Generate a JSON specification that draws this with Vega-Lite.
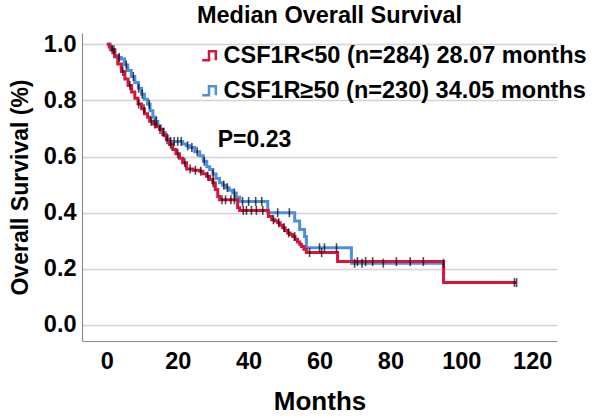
{
  "$schema": "https://vega.github.io/schema/vega-lite/v6.json",
  "width": 475,
  "height": 308,
  "autosize": {"type": "none"},
  "padding": {"left": 82, "top": 33, "right": 43, "bottom": 77},
  "background": "white",
  "config": {
    "font": "Liberation Sans",
    "view": {"stroke": null},
    "axis": {
      "labelFont": "Liberation Sans",
      "labelFontWeight": "bold",
      "labelColor": "black",
      "titleFont": "Liberation Sans",
      "titleFontWeight": "bold",
      "titleColor": "black",
      "domainColor": "#8c8c8c",
      "domainWidth": 1.2,
      "ticks": false,
      "gridColor": "#d4d4d4",
      "gridWidth": 1.5
    },
    "title": {"font": "Liberation Sans", "fontSize": 23.5, "fontWeight": "bold", "color": "black"}
  },
  "title": {"text": "Median Overall Survival", "anchor": "middle", "dx": 10, "offset": 5},
  "datasets": {
    "curves": [
      {"group": "CSF1R≥50 (n=230) 34.05 months", "t": 0, "s": 1.0},
      {"group": "CSF1R≥50 (n=230) 34.05 months", "t": 1.0, "s": 0.98},
      {"group": "CSF1R≥50 (n=230) 34.05 months", "t": 2.3, "s": 0.96},
      {"group": "CSF1R≥50 (n=230) 34.05 months", "t": 3.2, "s": 0.953},
      {"group": "CSF1R≥50 (n=230) 34.05 months", "t": 4.1, "s": 0.947},
      {"group": "CSF1R≥50 (n=230) 34.05 months", "t": 5.0, "s": 0.926},
      {"group": "CSF1R≥50 (n=230) 34.05 months", "t": 5.9, "s": 0.906},
      {"group": "CSF1R≥50 (n=230) 34.05 months", "t": 6.9, "s": 0.885},
      {"group": "CSF1R≥50 (n=230) 34.05 months", "t": 7.9, "s": 0.864},
      {"group": "CSF1R≥50 (n=230) 34.05 months", "t": 8.9, "s": 0.843},
      {"group": "CSF1R≥50 (n=230) 34.05 months", "t": 9.8, "s": 0.822},
      {"group": "CSF1R≥50 (n=230) 34.05 months", "t": 10.6, "s": 0.804},
      {"group": "CSF1R≥50 (n=230) 34.05 months", "t": 11.5, "s": 0.786},
      {"group": "CSF1R≥50 (n=230) 34.05 months", "t": 12.2, "s": 0.763},
      {"group": "CSF1R≥50 (n=230) 34.05 months", "t": 13.0, "s": 0.74},
      {"group": "CSF1R≥50 (n=230) 34.05 months", "t": 13.7, "s": 0.725},
      {"group": "CSF1R≥50 (n=230) 34.05 months", "t": 14.4, "s": 0.71},
      {"group": "CSF1R≥50 (n=230) 34.05 months", "t": 15.1, "s": 0.698},
      {"group": "CSF1R≥50 (n=230) 34.05 months", "t": 15.8, "s": 0.686},
      {"group": "CSF1R≥50 (n=230) 34.05 months", "t": 16.5, "s": 0.673},
      {"group": "CSF1R≥50 (n=230) 34.05 months", "t": 17.2, "s": 0.66},
      {"group": "CSF1R≥50 (n=230) 34.05 months", "t": 17.7, "s": 0.654},
      {"group": "CSF1R≥50 (n=230) 34.05 months", "t": 21.4, "s": 0.645},
      {"group": "CSF1R≥50 (n=230) 34.05 months", "t": 22.4, "s": 0.638},
      {"group": "CSF1R≥50 (n=230) 34.05 months", "t": 23.4, "s": 0.632},
      {"group": "CSF1R≥50 (n=230) 34.05 months", "t": 24.8, "s": 0.617},
      {"group": "CSF1R≥50 (n=230) 34.05 months", "t": 26.2, "s": 0.603},
      {"group": "CSF1R≥50 (n=230) 34.05 months", "t": 27.2, "s": 0.583},
      {"group": "CSF1R≥50 (n=230) 34.05 months", "t": 28.2, "s": 0.564},
      {"group": "CSF1R≥50 (n=230) 34.05 months", "t": 29.0, "s": 0.554},
      {"group": "CSF1R≥50 (n=230) 34.05 months", "t": 29.9, "s": 0.538},
      {"group": "CSF1R≥50 (n=230) 34.05 months", "t": 30.8, "s": 0.522},
      {"group": "CSF1R≥50 (n=230) 34.05 months", "t": 31.8, "s": 0.507},
      {"group": "CSF1R≥50 (n=230) 34.05 months", "t": 32.7, "s": 0.498},
      {"group": "CSF1R≥50 (n=230) 34.05 months", "t": 33.6, "s": 0.489},
      {"group": "CSF1R≥50 (n=230) 34.05 months", "t": 34.5, "s": 0.48},
      {"group": "CSF1R≥50 (n=230) 34.05 months", "t": 35.5, "s": 0.47},
      {"group": "CSF1R≥50 (n=230) 34.05 months", "t": 36.5, "s": 0.455},
      {"group": "CSF1R≥50 (n=230) 34.05 months", "t": 37.5, "s": 0.44},
      {"group": "CSF1R≥50 (n=230) 34.05 months", "t": 45.4, "s": 0.40},
      {"group": "CSF1R≥50 (n=230) 34.05 months", "t": 53.0, "s": 0.37},
      {"group": "CSF1R≥50 (n=230) 34.05 months", "t": 54.4, "s": 0.34},
      {"group": "CSF1R≥50 (n=230) 34.05 months", "t": 55.8, "s": 0.315},
      {"group": "CSF1R≥50 (n=230) 34.05 months", "t": 56.3, "s": 0.275},
      {"group": "CSF1R≥50 (n=230) 34.05 months", "t": 69.0, "s": 0.22},
      {"group": "CSF1R≥50 (n=230) 34.05 months", "t": 95.0, "s": 0.22},
      {"group": "CSF1R<50 (n=284) 28.07 months", "t": 0, "s": 1.0},
      {"group": "CSF1R<50 (n=284) 28.07 months", "t": 0.7, "s": 0.99},
      {"group": "CSF1R<50 (n=284) 28.07 months", "t": 1.3, "s": 0.98},
      {"group": "CSF1R<50 (n=284) 28.07 months", "t": 2.2, "s": 0.955},
      {"group": "CSF1R<50 (n=284) 28.07 months", "t": 3.1, "s": 0.93},
      {"group": "CSF1R<50 (n=284) 28.07 months", "t": 4.1, "s": 0.903},
      {"group": "CSF1R<50 (n=284) 28.07 months", "t": 5.1, "s": 0.876},
      {"group": "CSF1R<50 (n=284) 28.07 months", "t": 6.0, "s": 0.853},
      {"group": "CSF1R<50 (n=284) 28.07 months", "t": 7.0, "s": 0.83},
      {"group": "CSF1R<50 (n=284) 28.07 months", "t": 7.9, "s": 0.808},
      {"group": "CSF1R<50 (n=284) 28.07 months", "t": 8.8, "s": 0.787},
      {"group": "CSF1R<50 (n=284) 28.07 months", "t": 9.8, "s": 0.77},
      {"group": "CSF1R<50 (n=284) 28.07 months", "t": 10.6, "s": 0.752},
      {"group": "CSF1R<50 (n=284) 28.07 months", "t": 11.5, "s": 0.74},
      {"group": "CSF1R<50 (n=284) 28.07 months", "t": 12.1, "s": 0.726},
      {"group": "CSF1R<50 (n=284) 28.07 months", "t": 13.0, "s": 0.716},
      {"group": "CSF1R<50 (n=284) 28.07 months", "t": 14.0, "s": 0.706},
      {"group": "CSF1R<50 (n=284) 28.07 months", "t": 14.9, "s": 0.696},
      {"group": "CSF1R<50 (n=284) 28.07 months", "t": 15.8, "s": 0.678},
      {"group": "CSF1R<50 (n=284) 28.07 months", "t": 16.8, "s": 0.66},
      {"group": "CSF1R<50 (n=284) 28.07 months", "t": 17.7, "s": 0.643},
      {"group": "CSF1R<50 (n=284) 28.07 months", "t": 18.6, "s": 0.625},
      {"group": "CSF1R<50 (n=284) 28.07 months", "t": 19.5, "s": 0.61},
      {"group": "CSF1R<50 (n=284) 28.07 months", "t": 20.5, "s": 0.594},
      {"group": "CSF1R<50 (n=284) 28.07 months", "t": 21.4, "s": 0.578},
      {"group": "CSF1R<50 (n=284) 28.07 months", "t": 22.5, "s": 0.556},
      {"group": "CSF1R<50 (n=284) 28.07 months", "t": 24.3, "s": 0.551},
      {"group": "CSF1R<50 (n=284) 28.07 months", "t": 26.2, "s": 0.548},
      {"group": "CSF1R<50 (n=284) 28.07 months", "t": 27.1, "s": 0.539},
      {"group": "CSF1R<50 (n=284) 28.07 months", "t": 28.1, "s": 0.53},
      {"group": "CSF1R<50 (n=284) 28.07 months", "t": 29.0, "s": 0.518},
      {"group": "CSF1R<50 (n=284) 28.07 months", "t": 29.9, "s": 0.507},
      {"group": "CSF1R<50 (n=284) 28.07 months", "t": 30.6, "s": 0.483},
      {"group": "CSF1R<50 (n=284) 28.07 months", "t": 31.3, "s": 0.458},
      {"group": "CSF1R<50 (n=284) 28.07 months", "t": 31.8, "s": 0.446},
      {"group": "CSF1R<50 (n=284) 28.07 months", "t": 36.9, "s": 0.418},
      {"group": "CSF1R<50 (n=284) 28.07 months", "t": 37.5, "s": 0.408},
      {"group": "CSF1R<50 (n=284) 28.07 months", "t": 45.6, "s": 0.386},
      {"group": "CSF1R<50 (n=284) 28.07 months", "t": 46.5, "s": 0.375},
      {"group": "CSF1R<50 (n=284) 28.07 months", "t": 47.4, "s": 0.37},
      {"group": "CSF1R<50 (n=284) 28.07 months", "t": 48.2, "s": 0.364},
      {"group": "CSF1R<50 (n=284) 28.07 months", "t": 48.9, "s": 0.355},
      {"group": "CSF1R<50 (n=284) 28.07 months", "t": 49.6, "s": 0.346},
      {"group": "CSF1R<50 (n=284) 28.07 months", "t": 50.3, "s": 0.337},
      {"group": "CSF1R<50 (n=284) 28.07 months", "t": 51.0, "s": 0.328},
      {"group": "CSF1R<50 (n=284) 28.07 months", "t": 51.7, "s": 0.322},
      {"group": "CSF1R<50 (n=284) 28.07 months", "t": 52.4, "s": 0.315},
      {"group": "CSF1R<50 (n=284) 28.07 months", "t": 53.1, "s": 0.305},
      {"group": "CSF1R<50 (n=284) 28.07 months", "t": 53.8, "s": 0.296},
      {"group": "CSF1R<50 (n=284) 28.07 months", "t": 54.4, "s": 0.288},
      {"group": "CSF1R<50 (n=284) 28.07 months", "t": 54.9, "s": 0.28},
      {"group": "CSF1R<50 (n=284) 28.07 months", "t": 55.6, "s": 0.27},
      {"group": "CSF1R<50 (n=284) 28.07 months", "t": 56.3, "s": 0.258},
      {"group": "CSF1R<50 (n=284) 28.07 months", "t": 65.1, "s": 0.226},
      {"group": "CSF1R<50 (n=284) 28.07 months", "t": 95.0, "s": 0.151},
      {"group": "CSF1R<50 (n=284) 28.07 months", "t": 115.5, "s": 0.151}
    ],
    "censors": [
      {"t": 1.5, "s": 0.98}, {"t": 3.5, "s": 0.953}, {"t": 5.5, "s": 0.926}, {"t": 7.5, "s": 0.885},
      {"t": 9, "s": 0.843}, {"t": 10, "s": 0.822}, {"t": 12, "s": 0.786}, {"t": 14, "s": 0.725},
      {"t": 16, "s": 0.686}, {"t": 18, "s": 0.654}, {"t": 19, "s": 0.654}, {"t": 20, "s": 0.654},
      {"t": 21, "s": 0.654}, {"t": 22.8, "s": 0.638}, {"t": 24, "s": 0.632}, {"t": 25.5, "s": 0.617},
      {"t": 27.5, "s": 0.583}, {"t": 30, "s": 0.538}, {"t": 33, "s": 0.498}, {"t": 34, "s": 0.489},
      {"t": 36, "s": 0.47}, {"t": 38.3, "s": 0.44}, {"t": 40, "s": 0.44}, {"t": 42, "s": 0.44},
      {"t": 43.7, "s": 0.44}, {"t": 48.2, "s": 0.40}, {"t": 51.5, "s": 0.40}, {"t": 60, "s": 0.275},
      {"t": 61.4, "s": 0.275}, {"t": 64.8, "s": 0.275}, {"t": 69.9, "s": 0.22}, {"t": 72, "s": 0.22},
      {"t": 78, "s": 0.22}, {"t": 95, "s": 0.22},
      {"t": 2, "s": 0.98}, {"t": 4.5, "s": 0.903}, {"t": 6.5, "s": 0.853}, {"t": 9, "s": 0.787},
      {"t": 10.5, "s": 0.77}, {"t": 12.5, "s": 0.726}, {"t": 13.5, "s": 0.716}, {"t": 15, "s": 0.696},
      {"t": 17, "s": 0.66}, {"t": 18, "s": 0.643}, {"t": 20, "s": 0.61}, {"t": 22, "s": 0.578},
      {"t": 23.5, "s": 0.556}, {"t": 25, "s": 0.551}, {"t": 26.5, "s": 0.548}, {"t": 28.5, "s": 0.53},
      {"t": 30, "s": 0.507}, {"t": 32.5, "s": 0.446}, {"t": 33.5, "s": 0.446}, {"t": 35, "s": 0.446},
      {"t": 36, "s": 0.446}, {"t": 38.5, "s": 0.408}, {"t": 39.4, "s": 0.408}, {"t": 40.8, "s": 0.408},
      {"t": 42.2, "s": 0.408}, {"t": 44, "s": 0.408}, {"t": 47, "s": 0.375}, {"t": 48.5, "s": 0.364},
      {"t": 50, "s": 0.346}, {"t": 51.3, "s": 0.328}, {"t": 53, "s": 0.315}, {"t": 57.2, "s": 0.258},
      {"t": 60.6, "s": 0.258}, {"t": 70.7, "s": 0.226}, {"t": 73, "s": 0.226}, {"t": 75, "s": 0.226},
      {"t": 81.7, "s": 0.226}, {"t": 85.6, "s": 0.226}, {"t": 89.3, "s": 0.226}, {"t": 115, "s": 0.151},
      {"t": 115.6, "s": 0.151}
    ],
    "annot": [{"t": 31.3, "s": 0.66, "label": "P=0.23"}]
  },
  "layer": [
    {
      "data": {"name": "curves"},
      "mark": {"type": "line", "interpolate": "step-after", "strokeWidth": 3},
      "encoding": {
        "x": {
          "field": "t", "type": "quantitative",
          "scale": {"domain": [-7, 127], "nice": false, "zero": false},
          "axis": {"values": [0, 20, 40, 60, 80, 100, 120], "grid": false, "title": "Months", "labelFontSize": 23.5, "titleFontSize": 26, "labelPadding": 8, "titlePadding": 16}
        },
        "y": {
          "field": "s", "type": "quantitative",
          "scale": {"domain": [-0.057, 1.04], "nice": false, "zero": false},
          "axis": {"values": [0, 0.2, 0.4, 0.6, 0.8, 1.0], "format": ".1f", "grid": true, "title": "Overall Survival (%)", "labelFontSize": 23.5, "titleFontSize": 23, "labelPadding": 6, "titlePadding": 11}
        },
        "color": {
          "field": "group", "type": "nominal",
          "scale": {"domain": ["CSF1R<50 (n=284) 28.07 months", "CSF1R≥50 (n=230) 34.05 months"], "range": ["#d7143c", "#4a90e2"]},
          "sort": ["CSF1R≥50 (n=230) 34.05 months", "CSF1R<50 (n=284) 28.07 months"],
          "legend": {
            "title": null,
            "orient": "none",
            "legendX": 116,
            "legendY": 11,
            "padding": 0,
            "labelFont": "Liberation Sans",
            "labelFontSize": 23.5,
            "labelFontWeight": "bold",
            "labelColor": "black",
            "labelOffset": 2,
            "labelLimit": 500,
            "rowPadding": 10,
            "symbolType": "M-1,0.6H-0.1V-0.6H0.8V0.6",
            "symbolSize": 230,
            "symbolStrokeWidth": 2.5,
            "symbolFillColor": "transparent",
            "values": ["CSF1R<50 (n=284) 28.07 months", "CSF1R≥50 (n=230) 34.05 months"]
          }
        },
        "order": {"field": "t", "type": "quantitative"}
      }
    },
    {
      "data": {"name": "censors"},
      "mark": {"type": "tick", "orient": "vertical", "color": "black", "size": 9, "thickness": 1.6},
      "encoding": {
        "x": {"field": "t", "type": "quantitative"},
        "y": {"field": "s", "type": "quantitative"}
      }
    },
    {
      "data": {"name": "annot"},
      "mark": {"type": "text", "align": "left", "baseline": "middle", "font": "Liberation Sans", "fontSize": 23, "fontWeight": "bold", "color": "black"},
      "encoding": {
        "x": {"field": "t", "type": "quantitative"},
        "y": {"field": "s", "type": "quantitative"},
        "text": {"field": "label"}
      }
    }
  ]
}
